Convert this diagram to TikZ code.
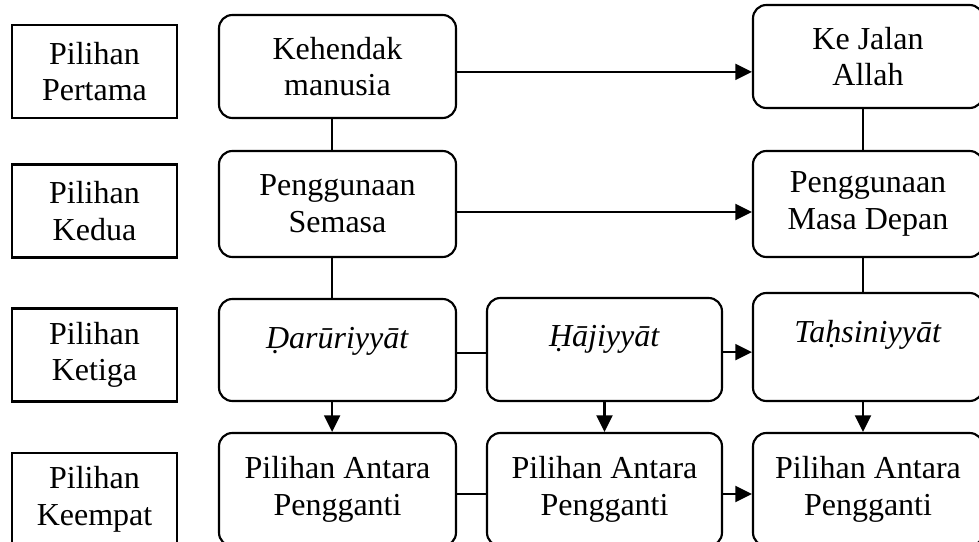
\documentclass[tikz,border=0pt]{standalone}
\usepackage{fontspec}
\setmainfont{Liberation Serif}
\usetikzlibrary{arrows.meta}
\tikzset{every picture/.style={line width=1.6pt}}
\tikzset{
  levelbox/.style={draw, rectangle, align=center, inner sep=0pt, minimum width=123.75pt, minimum height=69.75pt},
  stepbox/.style={draw, rounded corners=10pt, align=center, inner sep=0pt},
  toleft/.style={stepbox, minimum width=177.75pt},
  tomid/.style={stepbox, minimum width=176.25pt},
  toright/.style={stepbox, minimum width=172.5pt},
  link/.style={-{Triangle[length=12.5pt,width=12pt]}},
}

\begin{document}
\begin{tikzpicture}[x=0.75pt,y=0.75pt,yscale=-1,xscale=1,font=\fontsize{24}{27.5}\selectfont]
		\useasboundingbox (0,0) rectangle (979,542);
		
		% Text Node
		\draw (94.5,71.5) node (lvlone) [levelbox] {Pilihan\\Pertama};
		% Text Node
		\draw (94.5,211) node (lvltwo) [levelbox] {Pilihan\\Kedua};
		% Text Node
		\draw (94.5,355) node (lvlthree) [levelbox] {Pilihan\\Ketiga};
		% Text Node
		\draw (94.5,499.5) node (lvlfour) [levelbox] {Pilihan\\Keempat};
		
		%Rounded Rect
		\draw (337.5,66.5) node (kehendak) [toleft, minimum height=77.25pt] {Kehendak\\manusia};
		%Rounded Rect
		\draw (868,56.5) node (jalan) [toright, minimum height=77.25pt] {Ke Jalan\\Allah};
		%Rounded Rect
		\draw (337.5,204) node (semasa) [toleft, minimum height=79.5pt] {Penggunaan\\Semasa};
		%Rounded Rect
		\draw (868,204) node (depan) [toright, minimum height=79.5pt] {Penggunaan\\Masa Depan};
		%Rounded Rect
		\draw (337.5,350) node (darur) [toleft, text height=36.75pt, text depth=39.75pt] {\textit{Ḍarūriyyāt}};
		%Rounded Rect
		\draw (604.5,349.5) node (hajiy) [tomid, text height=36pt, text depth=41.25pt] {\textit{Ḥājiyyāt}};
		%Rounded Rect
		\draw (868,347) node (tahsin) [toright, text height=36.75pt, text depth=44.25pt] {\textit{Taḥsiniyyāt}};
		%Rounded Rect
		\draw (337.5,489.5) node (gantione) [toleft, minimum height=84.75pt] {Pilihan Antara\\Pengganti};
		%Rounded Rect
		\draw (604.5,489.5) node (gantitwo) [tomid, minimum height=84.75pt] {Pilihan Antara\\Pengganti};
		%Rounded Rect
		\draw (868,489.5) node (gantithree) [toright, minimum height=84.75pt] {Pilihan Antara\\Pengganti};
		
		%Straight Lines
		\draw [link] ([yshift=4pt]kehendak.east) -- ([yshift=4pt]kehendak.east -| jalan.west);
		\draw [link] ([yshift=6pt]semasa.east) -- ([yshift=6pt]semasa.east -| depan.west);
		\draw ([xshift=-4pt]kehendak.south) -- ([xshift=-4pt]semasa.north);
		\draw ([xshift=-4pt]semasa.south) -- ([xshift=-4pt]darur.north);
		\draw ([xshift=-3.75pt]jalan.south) -- ([xshift=-3.75pt]depan.north);
		\draw ([xshift=-3.75pt]depan.south) -- ([xshift=-3.75pt]tahsin.north);
		
		%Straight Lines
		\draw ([yshift=2.25pt]darur.east) -- ([yshift=2.25pt]darur.east -| hajiy.west);
		\draw [link] ([yshift=2pt]hajiy.east) -- ([yshift=2pt]hajiy.east -| tahsin.west);
		\draw [link] ([xshift=-4pt]darur.south) -- ([xshift=-4pt]gantione.north);
		\draw [link] (hajiy.south) -- (gantitwo.north);
		\draw [link] ([xshift=-3.75pt]tahsin.south) -- ([xshift=-3.75pt]gantithree.north);
		
		%Straight Lines
		\draw ([yshift=3.4pt]gantione.east) -- ([yshift=3.4pt]gantione.east -| gantitwo.west);
		\draw [link] ([yshift=3.4pt]gantitwo.east) -- ([yshift=3.4pt]gantitwo.east -| gantithree.west);
		
\end{tikzpicture}
\end{document}
